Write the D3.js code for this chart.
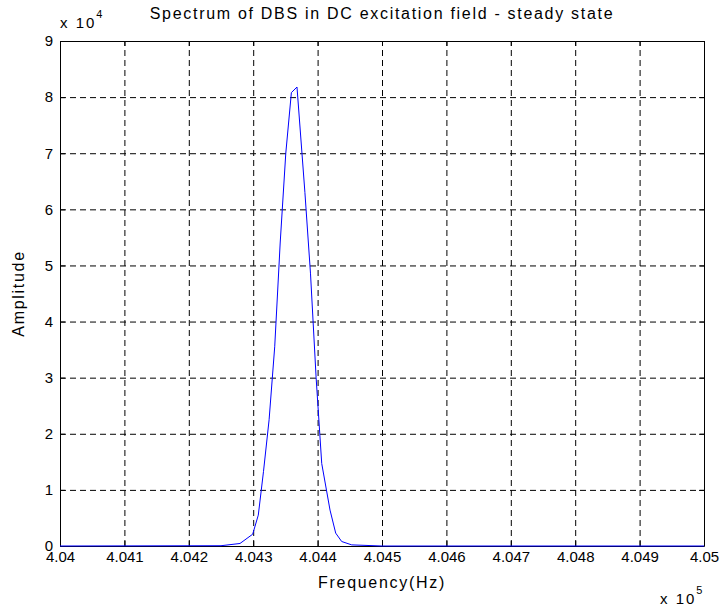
<!DOCTYPE html>
<html lang="en">
<head>
    <meta charset="UTF-8">
    <script src="https://cdn.jsdelivr.net/npm/d3@7"></script>
    <title>Spectrum of DBS</title>
    <style>
        body { margin: 0; background: #fff; font-family: "Liberation Sans", Arial, sans-serif; }
        svg text { fill: #000; }
        .grid line { stroke: #000; stroke-dasharray: 6,4; stroke-width: 1; }
        .grid .domain { display: none; }
        .axis path, .axis line { stroke: #000; }
        .axis text { font-size: 15px; font-family: "Liberation Sans", Arial, sans-serif; }
        .label { font-size: 16px; letter-spacing: 1.7px; }
    </style>
</head>
<body>
<div id="chart"></div>
<script>
    // spectrum samples (Hz, amplitude)
    const freqs = [404000, 404250, 404279.5, 404299.2, 404307.9, 404316.0, 404324.7, 404333.4,
        404341.9, 404350.6, 404359.3, 404368.0, 404380.3, 404389.0, 404397.7, 404406.4,
        404419.3, 404428.1, 404437.4, 404453.0, 404500, 405000];
    const amps = [0, 50, 450, 2100, 5500, 13300, 22500, 35500,
        54000, 70000, 80800, 81800, 63000, 48500, 30000, 14700,
        6400, 2300, 800, 200, 0, 0];
    const xTicks = [404000, 404100, 404200, 404300, 404400, 404500, 404600, 404700, 404800, 404900, 405000];
    const yTicks = [0, 10000, 20000, 30000, 40000, 50000, 60000, 70000, 80000, 90000];

    const W = 726, H = 608;
    const margin = { top: 41, right: 22, bottom: 62, left: 60 };
    const width = W - margin.left - margin.right;
    const height = H - margin.top - margin.bottom;

    const svg = d3.select("#chart").append("svg").attr("width", W).attr("height", H);
    const g = svg.append("g").attr("transform", `translate(${margin.left},${margin.top})`);

    const x = d3.scaleLinear().domain([404000, 405000]).range([0, width]);
    const y = d3.scaleLinear().domain([0, 90000]).range([height, 0]);

    // dashed grid
    g.append("g").attr("class", "grid").attr("transform", `translate(0,${height})`)
        .call(d3.axisBottom(x).tickValues(xTicks.slice(1, -1)).tickSize(-height).tickFormat(""));
    g.append("g").attr("class", "grid")
        .call(d3.axisLeft(y).tickValues(yTicks.slice(1, -1)).tickSize(-width).tickFormat(""));

    // axes with inward ticks
    const fmtX = v => String(+(v / 1e5).toFixed(4));
    const fmtY = v => String(v / 1e4);
    g.append("g").attr("class", "axis").attr("transform", `translate(0,${height})`)
        .call(d3.axisBottom(x).tickValues(xTicks).tickSizeInner(-5).tickSizeOuter(0).tickPadding(5).tickFormat(fmtX));
    g.append("g").attr("class", "axis")
        .call(d3.axisTop(x).tickValues(xTicks).tickSizeInner(-5).tickSizeOuter(0).tickFormat(""));
    g.append("g").attr("class", "axis")
        .call(d3.axisLeft(y).tickValues(yTicks).tickSizeInner(-5).tickSizeOuter(0).tickPadding(7).tickFormat(fmtY));
    g.append("g").attr("class", "axis").attr("transform", `translate(${width},0)`)
        .call(d3.axisRight(y).tickValues(yTicks).tickSizeInner(-5).tickSizeOuter(0).tickFormat(""));

    // spectrum line
    const pts = freqs.map((f, i) => [f, amps[i]]);
    g.append("path").datum(pts)
        .attr("fill", "none").attr("stroke", "#0000ff").attr("stroke-width", 1)
        .attr("d", d3.line().x(d => x(d[0])).y(d => y(d[1])));

    // titles
    svg.append("text").attr("class", "label").attr("x", margin.left + width / 2).attr("y", 19)
        .attr("text-anchor", "middle")
        .text("Spectrum of DBS in DC excitation field - steady state");
    svg.append("text").attr("class", "label").attr("x", margin.left + width / 2).attr("y", 588)
        .attr("text-anchor", "middle").text("Frequency(Hz)");
    svg.append("text").attr("class", "label").attr("transform", `translate(24,${margin.top + height / 2}) rotate(-90)`)
        .attr("text-anchor", "middle").text("Amplitude");

    // exponent labels
    const e4 = svg.append("text").attr("x", 60).attr("y", 28).style("font-size", "15px").style("letter-spacing", "2px");
    e4.append("tspan").text("x 10");
    e4.append("tspan").attr("dy", -10).style("font-size", "11px").text("4");
    const e5 = svg.append("text").attr("x", 660).attr("y", 604).style("font-size", "15px").style("letter-spacing", "2px");
    e5.append("tspan").text("x 10");
    e5.append("tspan").attr("dy", -10).style("font-size", "11px").text("5");
</script>
</body>
</html>
